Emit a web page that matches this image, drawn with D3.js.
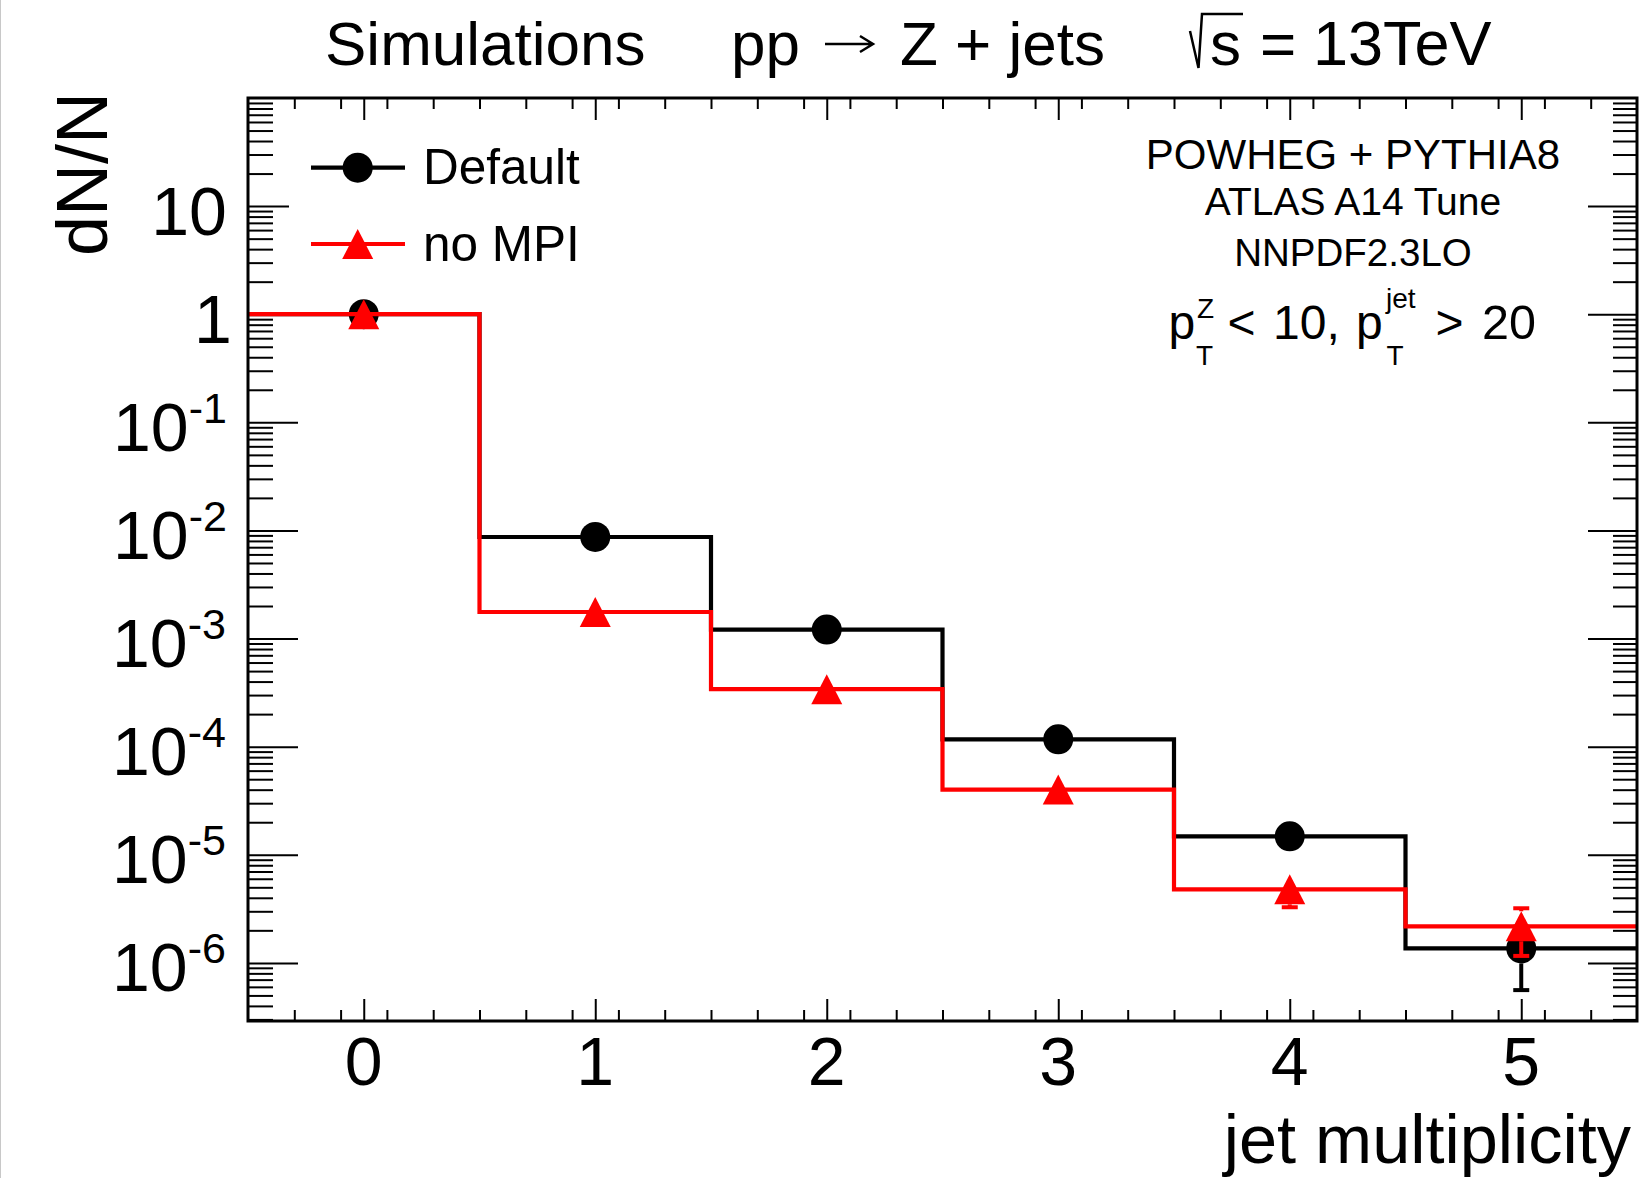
<!DOCTYPE html>
<html>
<head>
<meta charset="utf-8">
<script src="https://cdn.jsdelivr.net/npm/d3@7"></script>
<style>
  html, body { margin: 0; padding: 0; background: #fff; }
  svg { display: block; }
  text { font-family: "Liberation Sans", Arial, Helvetica, sans-serif; fill: #000; }
</style>
</head>
<body>
<svg id="chart" width="1639" height="1178"></svg>
<script>
// ---------------- data ----------------
const categories   = [0, 1, 2, 3, 4, 5];
const defaultVals  = [1, 8.7e-3, 1.21e-3, 1.17e-4, 1.48e-5, 1.36e-6];
const defaultErr   = [1.2e-3, 5.5e-5, 2.4e-5, 7.4e-6, 2.6e-6, 8.0e-7];
const noMpiVals    = [1, 1.76e-3, 3.40e-4, 4.01e-5, 4.79e-6, 2.18e-6];
const noMpiErr     = [1.2e-3, 2.9e-5, 1.3e-5, 4.4e-6, 1.52e-6, 1.02e-6];
const xTickValues  = [0, 1, 2, 3, 4, 5];
const xTickLabels  = ["0", "1", "2", "3", "4", "5"];
const yTickExps    = [-6, -5, -4, -3, -2, -1, 0, 1];
const seriesNames  = ["Default", "no MPI"];
const infoLines    = ["POWHEG + PYTHIA8", "ATLAS A14 Tune", "NNPDF2.3LO"];

// ---------------- layout ----------------
const L = 248, R = 1637, T = 98, B = 1021;
const svg = d3.select("#chart");
const x = d3.scaleLinear().domain([-0.5, 5.5]).range([L, R]);
const y = d3.scaleLog().domain([2.9e-7, 100]).range([B, T]);

// left screenshot border
svg.append("line").attr("x1", 0.5).attr("x2", 0.5).attr("y1", 0).attr("y2", 1178)
  .attr("stroke", "#c8c8c8").attr("stroke-width", 1);

// ---------------- ticks ----------------
const xMinor = d3.range(-5, 56, 2).map(v => v / 10).filter(v => Math.abs(v - Math.round(v)) > 1e-6 && v > -0.5 && v < 5.5);
const yMajor = yTickExps.map(e => Math.pow(10, e));
const yMinor = [];
for (let e = -7; e <= 1; e++) for (let m = 2; m <= 9; m++) {
  const v = m * Math.pow(10, e);
  if (v > y.domain()[0] && v < y.domain()[1]) yMinor.push(v);
}
function drawAxis(gen, tr) {
  const a = svg.append("g").attr("transform", tr).call(gen);
  a.select(".domain").remove();
  a.selectAll("text").remove();
  a.selectAll("line").attr("stroke", "#000").attr("stroke-width", 2);
  return a;
}
drawAxis(d3.axisBottom(x).tickValues(xTickValues).tickSize(-22).tickFormat(""), `translate(0,${B})`);
drawAxis(d3.axisBottom(x).tickValues(xMinor).tickSize(-11).tickFormat(""), `translate(0,${B})`);
drawAxis(d3.axisTop(x).tickValues(xTickValues).tickSize(-22).tickFormat(""), `translate(0,${T})`);
drawAxis(d3.axisTop(x).tickValues(xMinor).tickSize(-11).tickFormat(""), `translate(0,${T})`);
const lm = drawAxis(d3.axisLeft(y).tickValues(yMajor).tickSize(-50).tickFormat(""), `translate(${L},0)`);
lm.selectAll("line").attr("x2", d => (d === 10 ? 41 : 50));
drawAxis(d3.axisLeft(y).tickValues(yMinor).tickSize(-25).tickFormat(""), `translate(${L},0)`);
drawAxis(d3.axisRight(y).tickValues(yMajor).tickSize(-49).tickFormat(""), `translate(${R},0)`);
drawAxis(d3.axisRight(y).tickValues(yMinor).tickSize(-24).tickFormat(""), `translate(${R},0)`);

// ---------------- tick labels ----------------
const ctx = document.createElement("canvas").getContext("2d");
function inkShift(str, size) {
  ctx.font = `${size}px "Liberation Sans", Arial, sans-serif`;
  const m = ctx.measureText(str);
  return m.width - m.actualBoundingBoxRight;
}
svg.append("g").selectAll("text").data(xTickValues).join("text")
  .attr("x", d => x(d)).attr("y", 1085)
  .attr("text-anchor", "middle").attr("font-size", 68)
  .text((d, i) => xTickLabels[i]);

const yl = svg.append("g");
yTickExps.forEach(e => {
  const t = yl.append("text").attr("text-anchor", "end").attr("font-size", 68)
    .attr("y", y(Math.pow(10, e)) + 28.5);
  let shift;
  if (e === 0) { t.text("1"); shift = inkShift("1", 68) + 4; }
  else if (e === 1) { t.text("10"); shift = inkShift("10", 68); }
  else {
    t.append("tspan").text("10");
    t.append("tspan").attr("font-size", 43).attr("dy", -28).text(String(e));
    shift = inkShift(String(e), 43);
  }
  t.attr("x", 225 + shift);
});

// ---------------- axis titles ----------------
svg.append("text").attr("transform", "translate(107,92) rotate(-90)")
  .attr("text-anchor", "end").attr("font-size", 72).text("dN/N");
svg.append("text").attr("x", 1631).attr("y", 1163)
  .attr("text-anchor", "end").attr("font-size", 68.5).text("jet multiplicity");

// ---------------- histograms ----------------
function stepPath(vals) {
  const p = d3.path();
  vals.forEach((v, i) => {
    const x0 = x(categories[i] - 0.5), x1 = x(categories[i] + 0.5);
    if (i === 0) p.moveTo(x0, y(v)); else p.lineTo(x0, y(v));
    p.lineTo(x1, y(v));
  });
  return p.toString();
}
const S = 15; // marker half size
function drawErrors(g, vals, errs, color) {
  vals.forEach((v, i) => {
    const cx = x(categories[i]), cy = y(v);
    const yu = y(v + errs[i]), yd = y(Math.max(v - errs[i], 1e-12));
    if (yu < cy - S) {
      g.append("line").attr("x1", cx).attr("x2", cx).attr("y1", cy - S).attr("y2", yu)
        .attr("stroke", color).attr("stroke-width", 4);
      g.append("line").attr("x1", cx - 8).attr("x2", cx + 8).attr("y1", yu).attr("y2", yu)
        .attr("stroke", color).attr("stroke-width", 4);
    }
    if (yd > cy + S) {
      g.append("line").attr("x1", cx).attr("x2", cx).attr("y1", cy + S).attr("y2", yd)
        .attr("stroke", color).attr("stroke-width", 4);
      g.append("line").attr("x1", cx - 8).attr("x2", cx + 8).attr("y1", yd).attr("y2", yd)
        .attr("stroke", color).attr("stroke-width", 4);
    }
  });
}
const triPath = `M0,${-S} L${S + 0.5},${S} L${-S - 0.5},${S} Z`;

// Default (black)
const gB = svg.append("g");
gB.append("path").attr("d", stepPath(defaultVals)).attr("fill", "none")
  .attr("stroke", "#000").attr("stroke-width", 4.2);
drawErrors(gB, defaultVals, defaultErr, "#000");
gB.selectAll("circle").data(defaultVals).join("circle")
  .attr("cx", (d, i) => x(categories[i])).attr("cy", d => y(d)).attr("r", S).attr("fill", "#000");

// no MPI (red)
const gR = svg.append("g");
gR.append("path").attr("d", stepPath(noMpiVals)).attr("fill", "none")
  .attr("stroke", "#ff0000").attr("stroke-width", 4.2);
drawErrors(gR, noMpiVals, noMpiErr, "#ff0000");
gR.selectAll("path.m").data(noMpiVals).join("path").attr("class", "m")
  .attr("transform", (d, i) => `translate(${x(categories[i])},${y(d)})`)
  .attr("d", triPath).attr("fill", "#ff0000");

// ---------------- frame ----------------
svg.append("rect").attr("x", L).attr("y", T).attr("width", R - L).attr("height", B - T)
  .attr("fill", "none").attr("stroke", "#000").attr("stroke-width", 3);

// ---------------- legend ----------------
const leg = svg.append("g");
const legY = [167.7, 244];
const legCol = ["#000", "#ff0000"];
seriesNames.forEach((name, i) => {
  leg.append("line").attr("x1", 311).attr("x2", 405).attr("y1", legY[i]).attr("y2", legY[i])
    .attr("stroke", legCol[i]).attr("stroke-width", 4.2);
  if (i === 0) leg.append("circle").attr("cx", 357.7).attr("cy", legY[i]).attr("r", S).attr("fill", legCol[i]);
  else leg.append("path").attr("transform", `translate(357.7,${legY[i]})`).attr("d", triPath).attr("fill", legCol[i]);
  leg.append("text").attr("x", 423).attr("y", legY[i] + 16.5).attr("font-size", 49.5).text(name);
});

// ---------------- info text ----------------
const infoY = [169, 215, 265.5];
const infoSize = [42, 39, 38.5];
infoLines.forEach((s, i) => {
  svg.append("text").attr("x", 1353).attr("y", infoY[i]).attr("text-anchor", "middle")
    .attr("font-size", infoSize[i]).text(s);
});
const cut = svg.append("g");
cut.append("text").attr("x", 1168.5).attr("y", 339).attr("font-size", 48).text("p");
cut.append("text").attr("x", 1197).attr("y", 318).attr("font-size", 28).text("Z");
cut.append("text").attr("x", 1196).attr("y", 365).attr("font-size", 28).text("T");
cut.append("text").attr("x", 1227.5).attr("y", 339).attr("font-size", 48).text("<");
cut.append("text").attr("x", 1273).attr("y", 339).attr("font-size", 48).text("10,");
cut.append("text").attr("x", 1356).attr("y", 339).attr("font-size", 48).text("p");
cut.append("text").attr("x", 1386).attr("y", 308).attr("font-size", 28).text("jet");
cut.append("text").attr("x", 1386.5).attr("y", 365).attr("font-size", 28).text("T");
cut.append("text").attr("x", 1435.5).attr("y", 339).attr("font-size", 48).text(">");
cut.append("text").attr("x", 1482).attr("y", 339).attr("font-size", 48.5).text("20");

// ---------------- title ----------------
const tt = svg.append("g");
tt.append("text").attr("x", 325).attr("y", 65).attr("font-size", 62).text("Simulations");
tt.append("text").attr("x", 731).attr("y", 65).attr("font-size", 62).text("pp");
tt.append("path").attr("d", "M825,44 H872 M860,36 L873,44 L860,52")
  .attr("fill", "none").attr("stroke", "#000").attr("stroke-width", 2.5);
tt.append("text").attr("x", 900).attr("y", 65).attr("font-size", 62).text("Z + jets");
tt.append("path").attr("d", "M1190,31 L1198.5,68 L1202,14 H1243")
  .attr("fill", "none").attr("stroke", "#000").attr("stroke-width", 2.5);
tt.append("text").attr("x", 1210).attr("y", 65).attr("font-size", 62).text("s");
tt.append("text").attr("x", 1260).attr("y", 65).attr("font-size", 62).text("=");
tt.append("text").attr("x", 1313).attr("y", 65).attr("font-size", 63).text("13TeV");
</script>
</body>
</html>
